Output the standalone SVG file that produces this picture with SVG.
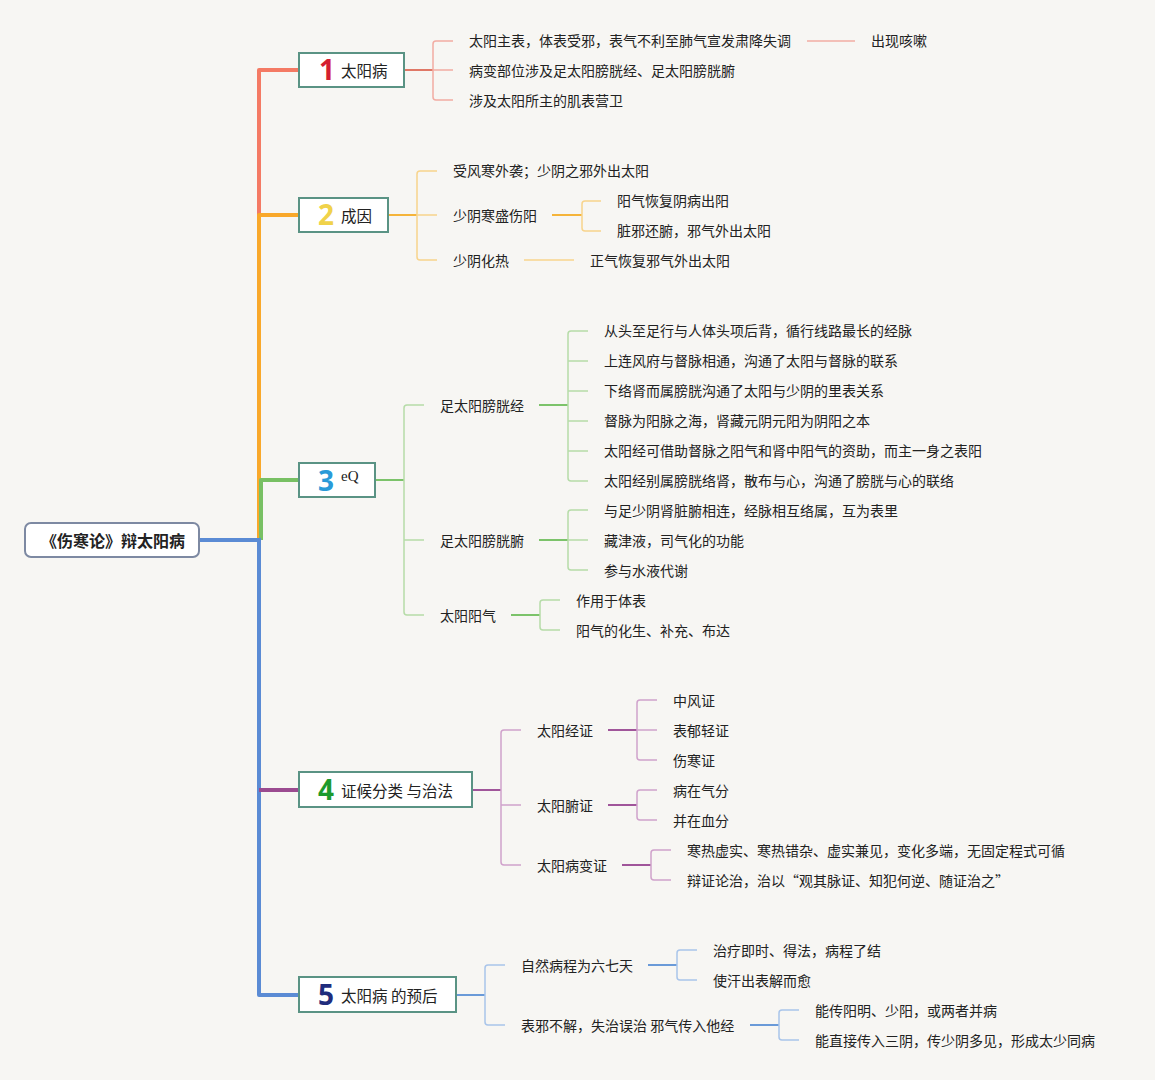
<svg xmlns="http://www.w3.org/2000/svg" width="1155" height="1080" viewBox="0 0 1155 1080">
<style>
text{font-family:"Noto Sans CJK SC","Noto Sans",sans-serif;font-size:14px;fill:#222;dominant-baseline:central}
.node rect{fill:#fff;stroke:#5a9384;stroke-width:2}
.num{font-family:"Open Sans","DejaVu Sans",sans-serif;font-weight:bold;font-size:28px}
.lbl{font-size:15.5px}
path{fill:none}
.t{stroke-width:4;stroke-linejoin:round}
.s{stroke-width:2}
.l{stroke-width:1.5}
</style>
<rect width="1155" height="1080" fill="#f7f6f3"/>
<g id="connectors">
  <path class="t" d="M259,540 V70 H299" stroke="#f47a64"/>
  <path class="t" d="M259,540 V215 H299" stroke="#f9a82a"/>
  <path class="t" d="M261,540 V480 H299" stroke="#78c063"/>
  <path class="t" d="M259,540 V995 H299" stroke="#5b8bd4"/>
  <path class="t" d="M259,790 H299" stroke="#9b4b90"/>
  <path class="t" d="M199,540 H261" stroke="#5b8bd4"/>
  <path class="s" d="M404,70 H433" stroke="#e07866"/>
  <path class="l" d="M453,41 H436 Q433,41 433,44 V97 Q433,100 436,100 H453 M433,70 H453" stroke="#f2aca3"/>
  <path class="l" d="M807,41 H855" stroke="#f2aca3"/>
  <path class="s" d="M388,215 H417" stroke="#f5b43a"/>
  <path class="l" d="M437,171 H420 Q417,171 417,174 V257 Q417,260 420,260 H437 M417,215 H437" stroke="#f8d48c"/>
  <path class="s" d="M552,215 H582" stroke="#f5b43a"/>
  <path class="l" d="M601,201 H585 Q582,201 582,204 V228 Q582,231 585,231 H601" stroke="#f8d48c"/>
  <path class="l" d="M524,260 H574" stroke="#f8d48c"/>
  <path class="s" d="M375,480 H404" stroke="#7cc36a"/>
  <path class="l" d="M424,405 H407 Q404,405 404,408 V612 Q404,615 407,615 H424 M404,540 H424" stroke="#b6dca8"/>
  <path class="s" d="M539,405 H568" stroke="#7cc36a"/>
  <path class="l" d="M588,331 H571 Q568,331 568,334 V478 Q568,481 571,481 H588 M568,361 H588 M568,391 H588 M568,421 H588 M568,451 H588" stroke="#b6dca8"/>
  <path class="s" d="M539,540 H568" stroke="#7cc36a"/>
  <path class="l" d="M588,510 H571 Q568,510 568,513 V567 Q568,570 571,570 H588 M568,540 H588" stroke="#b6dca8"/>
  <path class="s" d="M511,615 H540" stroke="#7cc36a"/>
  <path class="l" d="M560,600 H543 Q540,600 540,603 V627 Q540,630 543,630 H560" stroke="#b6dca8"/>
  <path class="s" d="M472,790 H501" stroke="#a0559a"/>
  <path class="l" d="M521,730 H504 Q501,730 501,733 V862 Q501,865 504,865 H521 M501,805 H521" stroke="#d0a2cc"/>
  <path class="s" d="M608,730 H637" stroke="#a0559a"/>
  <path class="l" d="M657,700 H640 Q637,700 637,703 V757 Q637,760 640,760 H657 M637,730 H657" stroke="#d0a2cc"/>
  <path class="s" d="M608,805 H637" stroke="#a0559a"/>
  <path class="l" d="M657,790 H640 Q637,790 637,793 V817 Q637,820 640,820 H657" stroke="#d0a2cc"/>
  <path class="s" d="M622,865 H651" stroke="#a0559a"/>
  <path class="l" d="M671,850 H654 Q651,850 651,853 V877 Q651,880 654,880 H671" stroke="#d0a2cc"/>
  <path class="s" d="M456,995 H485" stroke="#6a9ad8"/>
  <path class="l" d="M505,965 H488 Q485,965 485,968 V1022 Q485,1025 488,1025 H505" stroke="#a9c5ea"/>
  <path class="s" d="M648,965 H677" stroke="#6a9ad8"/>
  <path class="l" d="M697,950 H680 Q677,950 677,953 V977 Q677,980 680,980 H697" stroke="#a9c5ea"/>
  <path class="s" d="M750,1025 H779" stroke="#6a9ad8"/>
  <path class="l" d="M799,1010 H782 Q779,1010 779,1013 V1037 Q779,1040 782,1040 H799" stroke="#a9c5ea"/>
</g>
<g id="root">
  <rect x="25" y="523" width="174" height="34" rx="6" fill="#fff" stroke="#7d89a2" stroke-width="2"/>
  <text x="113" y="540" text-anchor="middle" style="font-size:16px;font-weight:bold">《伤寒论》辩太阳病</text>
</g>
<g id="n1" class="node">
  <rect x="299" y="53" width="105" height="34"/>
  <text class="num" x="327" y="69" text-anchor="middle" style="fill:#d41f2f">1</text>
  <text class="lbl" x="341" y="70">太阳病</text>
</g>
<g id="n2" class="node">
  <rect x="299" y="198" width="89" height="34"/>
  <text class="num" x="326" y="214" text-anchor="middle" style="fill:#f0d24a">2</text>
  <text class="lbl" x="341" y="215">成因</text>
</g>
<g id="n3" class="node">
  <rect x="299" y="463" width="76" height="34"/>
  <text class="num" x="326" y="480" text-anchor="middle" style="fill:#2a9ad8">3</text>
  <text x="341" y="476" style="font-family:'Liberation Serif',serif;font-size:15px">eQ</text>
</g>
<g id="n4" class="node">
  <rect x="299" y="772" width="173" height="35"/>
  <text class="num" x="326" y="789" text-anchor="middle" style="fill:#1d9a2c">4</text>
  <text class="lbl" x="341" y="790">证候分类 与治法</text>
</g>
<g id="n5" class="node">
  <rect x="299" y="977" width="157" height="35"/>
  <text class="num" x="326" y="994" text-anchor="middle" style="fill:#1f2c7c">5</text>
  <text class="lbl" x="341" y="995">太阳病 的预后</text>
</g>
<g id="b1">
  <text x="469" y="40">太阳主表，体表受邪，表气不利至肺气宣发肃降失调</text>
  <text x="871" y="40">出现咳嗽</text>
  <text x="469" y="70">病变部位涉及足太阳膀胱经、足太阳膀胱腑</text>
  <text x="469" y="100">涉及太阳所主的肌表营卫</text>
</g>
<g id="b2">
  <text x="453" y="170">受风寒外袭；少阴之邪外出太阳</text>
  <text x="453" y="215">少阴寒盛伤阳</text>
  <text x="617" y="200">阳气恢复阴病出阳</text>
  <text x="617" y="230">脏邪还腑，邪气外出太阳</text>
  <text x="453" y="260">少阴化热</text>
  <text x="590" y="260">正气恢复邪气外出太阳</text>
</g>
<g id="b3">
  <text x="440" y="405">足太阳膀胱经</text>
  <text x="604" y="330">从头至足行与人体头项后背，循行线路最长的经脉</text>
  <text x="604" y="360">上连风府与督脉相通，沟通了太阳与督脉的联系</text>
  <text x="604" y="390">下络肾而属膀胱沟通了太阳与少阴的里表关系</text>
  <text x="604" y="420">督脉为阳脉之海，肾藏元阴元阳为阴阳之本</text>
  <text x="604" y="450">太阳经可借助督脉之阳气和肾中阳气的资助，而主一身之表阳</text>
  <text x="604" y="480">太阳经别属膀胱络肾，散布与心，沟通了膀胱与心的联络</text>
  <text x="440" y="540">足太阳膀胱腑</text>
  <text x="604" y="510">与足少阴肾脏腑相连，经脉相互络属，互为表里</text>
  <text x="604" y="540">藏津液，司气化的功能</text>
  <text x="604" y="570">参与水液代谢</text>
  <text x="440" y="615">太阳阳气</text>
  <text x="576" y="600">作用于体表</text>
  <text x="576" y="630">阳气的化生、补充、布达</text>
</g>
<g id="b4">
  <text x="537" y="730">太阳经证</text>
  <text x="673" y="700">中风证</text>
  <text x="673" y="730">表郁轻证</text>
  <text x="673" y="760">伤寒证</text>
  <text x="537" y="805">太阳腑证</text>
  <text x="673" y="790">病在气分</text>
  <text x="673" y="820">并在血分</text>
  <text x="537" y="865">太阳病变证</text>
  <text x="687" y="850">寒热虚实、寒热错杂、虚实兼见，变化多端，无固定程式可循</text>
  <text x="687" y="880">辩证论治，治以“观其脉证、知犯何逆、随证治之”</text>
</g>
<g id="b5">
  <text x="521" y="965">自然病程为六七天</text>
  <text x="713" y="950">治疗即时、得法，病程了结</text>
  <text x="713" y="980">使汗出表解而愈</text>
  <text x="521" y="1025">表邪不解，失治误治 邪气传入他经</text>
  <text x="815" y="1010">能传阳明、少阳，或两者并病</text>
  <text x="815" y="1040">能直接传入三阴，传少阴多见，形成太少同病</text>
</g>
</svg>
